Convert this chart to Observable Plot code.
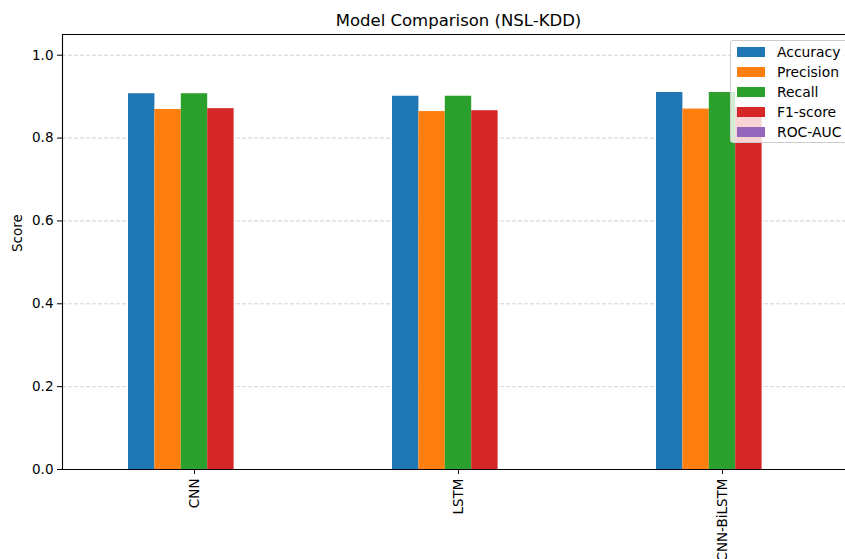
<!DOCTYPE html>
<html>
<head>
<meta charset="utf-8">
<script src="https://cdn.jsdelivr.net/npm/d3@7"></script>
<script src="https://cdn.jsdelivr.net/npm/@observablehq/plot@0.6"></script>
<style>
  html, body { margin: 0; padding: 0; background: #fff; overflow: hidden; }
  #wrap { position: relative; width: 845px; height: 559px; overflow: hidden; }
  #chart svg { max-width: none !important; display: block; }
  #legend {
    position: absolute; left: 730px; top: 40px; width: 130px; height: 103px;
    box-sizing: border-box; border: 1px solid #cccccc; border-radius: 3px;
    background: rgba(255,255,255,0.8);
    font-family: "DejaVu Sans", sans-serif; font-size: 13.9px; color: #000;
  }
  .item { position: absolute; left: 6px; height: 20px; display: flex; align-items: center; }
  .sw { width: 28px; height: 10px; margin-right: 12px; }
</style>
</head>
<body>
<div id="wrap"><div id="chart"></div><div id="legend"></div></div>
<script>
const models = ["CNN", "LSTM", "CNN-BiLSTM"];
const metrics = ["Accuracy", "Precision", "Recall", "F1-score", "ROC-AUC"];
const colors = ["#1f77b4", "#ff7f0e", "#2ca02c", "#d62728", "#9467bd"];
const accuracy = [0.907, 0.901, 0.910];
const precision = [0.869, 0.864, 0.870];
const recall = [0.907, 0.901, 0.910];
const f1 = [0.871, 0.866, 0.872];
const rocauc = [null, null, null];
const yTicks = [0, 0.2, 0.4, 0.6, 0.8, 1.0];

const series = [accuracy, precision, recall, f1, rocauc];
const barWidth = 0.5 / metrics.length;
const rows = [];
models.forEach((m, i) => {
  metrics.forEach((k, j) => {
    const v = series[j][i];
    if (v == null) return;
    const x1 = i - 0.25 + j * barWidth;
    rows.push({model: m, metric: k, value: v, x1, x2: x1 + barWidth});
  });
});

const font = "DejaVu Sans, sans-serif";
const chart = Plot.plot({
  width: 854,
  height: 559,
  marginLeft: 62,
  marginRight: 0,
  marginTop: 34,
  marginBottom: 90,
  style: {fontFamily: font, fontSize: "13px", background: "white", color: "#000", maxWidth: "none"},
  x: {domain: [-0.5, 2.5]},
  y: {domain: [0, 1.05]},
  color: {domain: metrics, range: colors},
  marks: [
    Plot.gridY(yTicks.slice(1), {stroke: "#b0b0b0", strokeOpacity: 0.7, strokeDasharray: "4,2", strokeWidth: 0.8}),
    Plot.rectY(rows, {x1: "x1", x2: "x2", y: "value", fill: "metric", inset: 0}),
    Plot.axisY(yTicks, {tickFormat: d3.format(".1f"), tickSize: 5, tickPadding: 4, fontSize: 13.5, label: null}),
    Plot.axisX(models.map((d, i) => i), {tickFormat: i => models[i], tickRotate: -90, tickSize: 5, tickPadding: 4, fontSize: 13.5, label: null}),
    Plot.ruleX([-0.5], {stroke: "#000", strokeWidth: 1.1}),
    Plot.ruleY([0, 1.05], {stroke: "#000", strokeWidth: 1.1}),
    Plot.text(["Model Comparison (NSL-KDD)"], {frameAnchor: "top", lineAnchor: "middle", dy: -14, fontSize: 16.5, fill: "#000"}),
    Plot.text(["Score"], {frameAnchor: "left", dx: -45, rotate: -90, fontSize: 13.5, fill: "#000"})
  ]
});
document.getElementById("chart").appendChild(chart);

const legend = document.getElementById("legend");
metrics.forEach((k, j) => {
  const it = document.createElement("div");
  it.className = "item";
  it.style.top = (1 + j * 20) + "px";
  const sw = document.createElement("div");
  sw.className = "sw";
  sw.style.background = colors[j];
  const t = document.createElement("span");
  t.textContent = k;
  it.appendChild(sw); it.appendChild(t);
  legend.appendChild(it);
});
</script>
</body>
</html>
